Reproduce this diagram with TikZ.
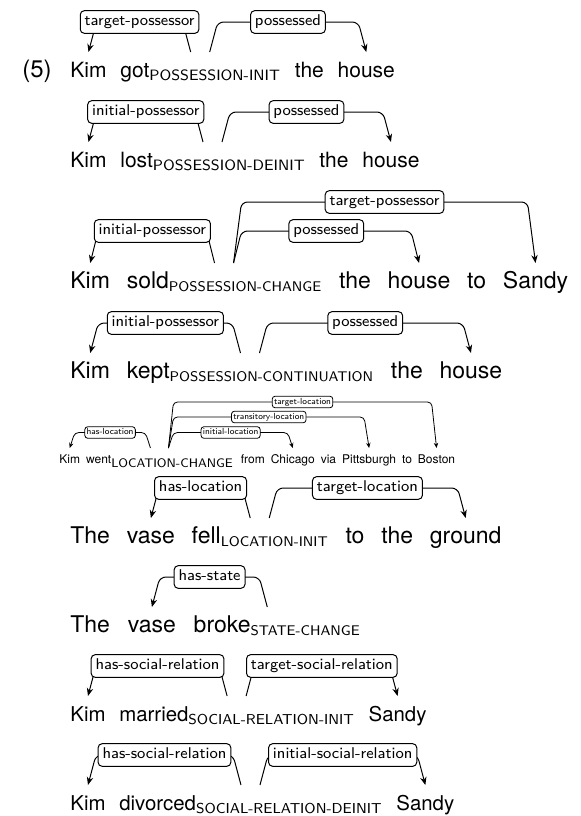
\documentclass[tikz,border=0pt]{standalone}
\usepackage{fontspec}
\newfontfamily\heros{TeX Gyre Heros}
\usetikzlibrary{calc,positioning,arrows.meta}

% role tag set as a lowered subscript
\def\tagsize{7}
\newcommand{\ptag}[1]{\raisebox{-1.6pt}{\sffamily\fontsize{\tagsize}{9}\selectfont #1}}
\def\depfoot{12.5pt}
\def\depslant{4pt}
% head, shift at head, dependent, height, label
\newcommand{\deparc}[5]{%
  \draw[dep] ($(#1.base)+(#2,\depfoot)$) coordinate (a)
    -- ($(a)+({sign(#2)*\depslant},#4)$)
    -- node[deplabel]{#5} ($(#3.base)+({-sign(#2)*\depslant},\depfoot+#4)$)
    -- ($(#3.base)+(0,\depfoot)$);}

\tikzset{
  word/.style={inner sep=0pt, font=\heros\fontsize{11.5}{13}\selectfont},
  smallrow/.style={word/.append style={font=\heros\fontsize{10.5}{12}\selectfont}},
  dep/.style={-{Stealth[length=4pt,width=3.2pt]}, line width=0.5pt, rounded corners=3pt},
  deplabel/.style={draw, fill=white, rounded corners=2pt, line width=0.5pt,
    inner xsep=2.2pt, inner ysep=2.1pt, text height=5.5pt, text depth=1.6pt,
    font=\sffamily\fontsize{7.8}{9}\selectfont},
}

\begin{document}
\begin{tikzpicture}
\useasboundingbox (0,0) rectangle (290.5pt,-408pt);

\node[word, anchor=base west, font=\heros\fontsize{12}{14}\selectfont] (ex) at (11pt,-38.5pt) {(5)};

\begin{scope}[smallrow]
\def\tagsize{7.5}
% got
\node[word, anchor=base west] (kim1) at (35pt,-38.5pt) {Kim};
\node[word, base right=6.5pt of kim1] (got) {got\ptag{POSSESSION-INIT}};
\node[word, base right=7pt of got] (the1) {the};
\node[word, base right=6.5pt of the1] (house1) {house};
\deparc{got}{-4.75pt}{kim1}{15pt}{target-possessor}
\deparc{got}{4.75pt}{house1}{15pt}{possessed}

% lost
\node[word, anchor=base west] (kim2) at (35pt,-83.5pt) {Kim};
\node[word, base right=6.5pt of kim2] (lost) {lost\ptag{POSSESSION-DEINIT}};
\node[word, base right=7pt of lost] (the2) {the};
\node[word, base right=6.5pt of the2] (house2) {house};
\deparc{lost}{-4.75pt}{kim2}{15pt}{initial-possessor}
\deparc{lost}{4.75pt}{house2}{15pt}{possessed}
\end{scope}

% sold
\node[word, anchor=base west] (kim3) at (35pt,-144pt) {Kim};
\node[word, base right=8pt of kim3] (sold) {sold\ptag{POSSESSION-CHANGE}};
\node[word, base right=8.5pt of sold] (the3) {the};
\node[word, base right=8pt of the3] (house3) {house};
\node[word, base right=8pt of house3] (to3) {to};
\node[word, base right=8pt of to3] (sandy3) {Sandy};
\deparc{sold}{-4.75pt}{kim3}{16pt}{initial-possessor}
\deparc{sold}{4.75pt}{house3}{16pt}{possessed}
\deparc{sold}{4.75pt}{sandy3}{30.5pt}{target-possessor}

% kept
\node[word, anchor=base west] (kim4) at (35pt,-189pt) {Kim};
\node[word, base right=8pt of kim4] (kept) {kept\ptag{POSSESSION-CONTINUATION}};
\node[word, base right=8.5pt of kept] (the4) {the};
\node[word, base right=8pt of the4] (house4) {house};
\deparc{kept}{-4.75pt}{kim4}{15pt}{initial-possessor}
\deparc{kept}{4.75pt}{house4}{15pt}{possessed}

% went
\begin{scope}[word/.append style={font=\heros\fontsize{6}{7}\selectfont},
  dep/.append style={-{Stealth[length=2.6pt,width=2.2pt]}, line width=0.4pt, rounded corners=2pt},
  deplabel/.append style={line width=0.4pt, rounded corners=1.5pt, inner xsep=0.9pt, inner ysep=0.9pt,
    text height=3.1pt, text depth=0.9pt, font=\sffamily\fontsize{4.4}{5}\selectfont}]
\def\depfoot{7.5pt}
\def\depslant{2.5pt}
\node[word, anchor=base west] (kim5) at (29.5pt,-231.5pt) {Kim};
\node[word, base right=2.6pt of kim5] (went) {went\raisebox{-2.4pt}{\sffamily\fontsize{6.2}{7}\selectfont LOCATION-CHANGE}};
\node[word, base right=3.6pt of went] (from5) {from};
\node[word, base right=2.6pt of from5] (chicago) {Chicago};
\node[word, base right=2.6pt of chicago] (via5) {via};
\node[word, base right=2.6pt of via5] (pitts) {Pittsburgh};
\node[word, base right=2.6pt of pitts] (to5) {to};
\node[word, base right=2.6pt of to5] (boston) {Boston};
\deparc{went}{-4.5pt}{kim5}{7.75pt}{has-location}
\deparc{went}{4.5pt}{chicago}{7.75pt}{initial-location}
\deparc{went}{4.5pt}{pitts}{15.5pt}{transitory-location}
\deparc{went}{4.5pt}{boston}{23pt}{target-location}
\end{scope}

% fell
\node[word, anchor=base west] (the6) at (35pt,-271.5pt) {The};
\node[word, base right=8pt of the6] (vase6) {vase};
\node[word, base right=8pt of vase6] (fell) {fell\ptag{LOCATION-INIT}};
\node[word, base right=8.5pt of fell] (to6) {to};
\node[word, base right=8pt of to6] (theb6) {the};
\node[word, base right=8pt of theb6] (ground) {ground};
\deparc{fell}{-4.75pt}{vase6}{15pt}{has-location}
\deparc{fell}{4.75pt}{ground}{15pt}{target-location}

% broke
\node[word, anchor=base west] (the7) at (35pt,-316pt) {The};
\node[word, base right=8.5pt of the7] (vase7) {vase};
\node[word, base right=8.5pt of vase7] (broke) {broke\ptag{STATE-CHANGE}};
\deparc{broke}{-4.75pt}{vase7}{15pt}{has-state}

\begin{scope}[word/.append style={font=\heros\fontsize{10.2}{12}\selectfont}]
\def\tagsize{7.2}
% married
\node[word, anchor=base west] (kim8) at (35pt,-360.5pt) {Kim};
\node[word, base right=6.5pt of kim8] (married) {married\ptag{SOCIAL-RELATION-INIT}};
\node[word, base right=7pt of married] (sandy8) {Sandy};
\deparc{married}{-4.75pt}{kim8}{15pt}{has-social-relation}
\deparc{married}{4.75pt}{sandy8}{15pt}{target-social-relation}

% divorced
\node[word, anchor=base west] (kim9) at (35pt,-405pt) {Kim};
\node[word, base right=6.5pt of kim9] (divorced) {divorced\ptag{SOCIAL-RELATION-DEINIT}};
\node[word, base right=7pt of divorced] (sandy9) {Sandy};
\deparc{divorced}{-4.75pt}{kim9}{15pt}{has-social-relation}
\deparc{divorced}{4.75pt}{sandy9}{15pt}{initial-social-relation}
\end{scope}
\end{tikzpicture}
\end{document}
